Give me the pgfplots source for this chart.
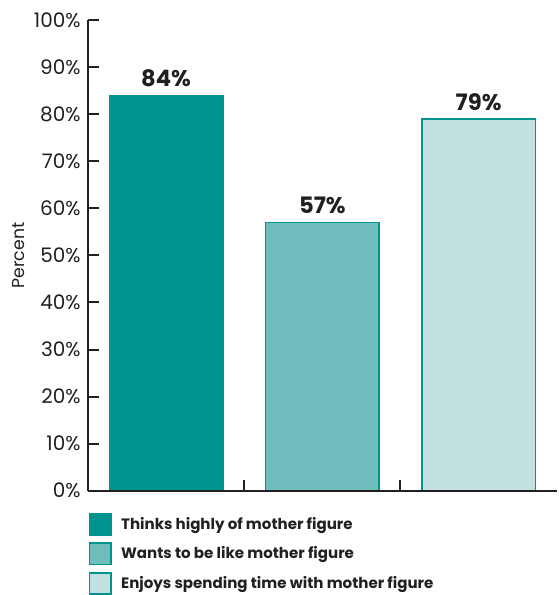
\documentclass[border=0pt]{standalone}
\usepackage{pgfplots}
\pgfplotsset{compat=1.18}
\usepackage{fontspec}
\setmainfont{Poppins}
\definecolor{tealA}{HTML}{00948F}
\definecolor{tealB}{HTML}{70BDBD}
\definecolor{tealC}{HTML}{C2E1E0}
\definecolor{axisgray}{HTML}{231F20}
\begin{document}
\begin{tikzpicture}
\begin{axis}[
  ybar,
  scale only axis, width=351.75pt, height=353.25pt,
  xmin=-0.5, xmax=2.5, ymin=0, ymax=100,
  axis x line=bottom, axis y line=left,
  axis line style={-, line width=1.5pt, draw=axisgray},
  tick align=inside, xtick align=inside, ytick align=inside, major tick length=8pt,
  tick style={line width=1.5pt, draw=axisgray},
  xtick={0.5,1.5}, xticklabels={},
  ytick={0,10,...,100},
  yticklabel={\pgfmathprintnumber{\tick}\%},
  /pgf/number format/assume math mode=true,
  yticklabel style={font=\fontsize{15}{17}\selectfont, text=axisgray, xshift=-2pt},
  ylabel={Percent},
  ylabel style={at={(rel axis cs:-0.149,0.5)}, anchor=center, font=\fontsize{13}{15}\selectfont, text=axisgray},
  axis on top, clip=false,
  legend style={at={(rel axis cs:0.002,-0.047)}, anchor=north west, draw=none, fill=none,
    inner sep=0pt, outer sep=0pt, row sep=5pt,
    font=\bfseries\fontsize{11.3}{13}\selectfont, text=axisgray,
    cells={anchor=west, inner sep=0pt, outer sep=0pt},
    /tikz/every odd column/.append style={column sep=5pt}},
  legend cell align=left,
]
\addplot[ybar, bar shift=0pt, bar width=0.726, fill=tealA, draw=tealA, line width=1.2pt,
  nodes near coords={\pgfmathprintnumber{\pgfplotspointmeta}\%},
  nodes near coords style={font=\bfseries\fontsize{17}{19}\selectfont, text=axisgray, yshift=2.5pt},
  legend image code/.code={\draw[fill=tealA, draw=tealA, line width=1.2pt] (0pt,-8pt) rectangle (16pt,8pt);}]
  coordinates {(0,84)};
\addlegendentry{Thinks highly of mother figure}
\addplot[ybar, bar shift=0pt, bar width=0.726, fill=tealB, draw=tealA, line width=1.2pt,
  nodes near coords={\pgfmathprintnumber{\pgfplotspointmeta}\%},
  nodes near coords style={font=\bfseries\fontsize{17}{19}\selectfont, text=axisgray, yshift=2.5pt},
  legend image code/.code={\draw[fill=tealB, draw=tealA, line width=1.2pt] (0pt,-8pt) rectangle (16pt,8pt);}]
  coordinates {(1,57)};
\addlegendentry{Wants to be like mother figure}
\addplot[ybar, bar shift=0pt, bar width=0.726, fill=tealC, draw=tealA, line width=1.2pt,
  nodes near coords={\pgfmathprintnumber{\pgfplotspointmeta}\%},
  nodes near coords style={font=\bfseries\fontsize{17}{19}\selectfont, text=axisgray, yshift=2.5pt},
  legend image code/.code={\draw[fill=tealC, draw=tealA, line width=1.2pt] (0pt,-8pt) rectangle (16pt,8pt);}]
  coordinates {(2,79)};
\addlegendentry{Enjoys spending time with mother figure}
\path (rel axis cs:-0.1876,-0.2208) rectangle (rel axis cs:1.003,1.0425);
\end{axis}
\end{tikzpicture}
\end{document}
